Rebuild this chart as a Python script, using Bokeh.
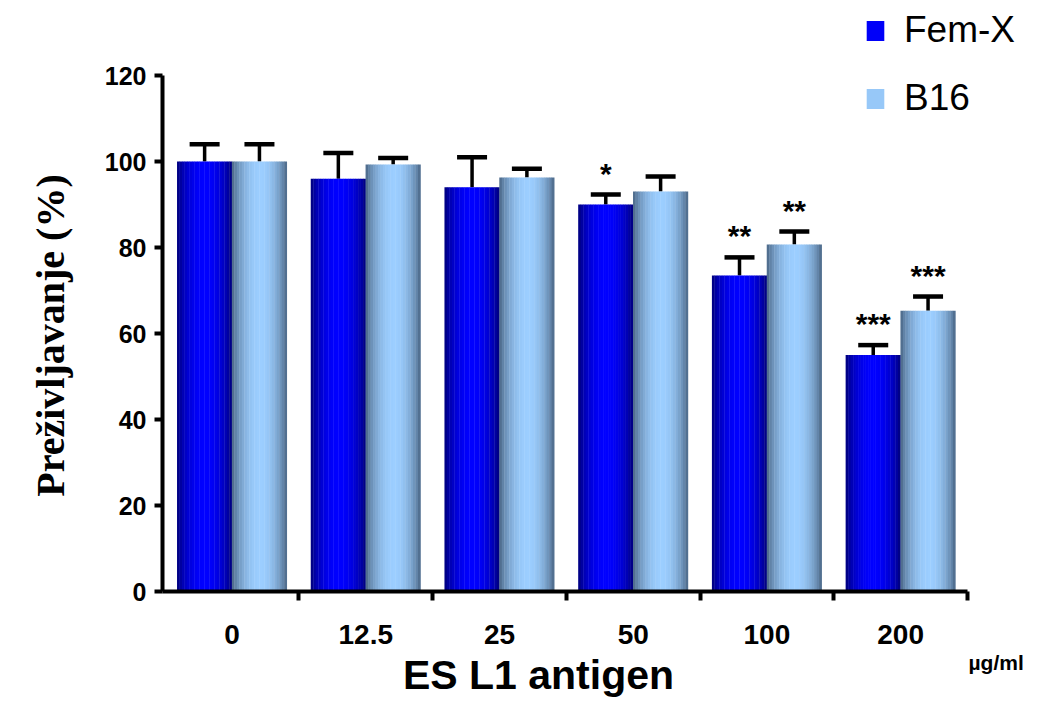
import numpy as np
from bokeh.plotting import figure
from bokeh.models import (ColumnDataSource, Range1d, FixedTicker, Whisker, TeeHead,
                          Label, Legend, LegendItem)
from bokeh.core.properties import value
from bokeh.embed import file_html
from bokeh.resources import INLINE

# ---- data ----
categories = ["0", "12.5", "25", "50", "100", "200"]
femx = [100, 96, 94, 90, 73.5, 55]
femx_err = [4, 6, 7, 2.3, 4.2, 2.3]
b16 = [100, 99.3, 96.3, 93, 80.7, 65.3]
b16_err = [4, 1.5, 2, 3.5, 3, 3.3]
femx_sig = ["", "", "", "*", "**", "***"]
b16_sig = ["", "", "", "", "**", "***"]
y_ticks = [0, 20, 40, 60, 80, 100, 120]
series_names = ["Fem-X", "B16"]
x_title = "ES L1 antigen"
y_title = "Preživljavanje (%)"
unit_text = "µg/ml"

n = len(categories)
xc = np.arange(n) + 0.5
bw = 0.41

# frame covers whole canvas; axes placed with fixed_location
W, H = 1042, 705
fx0, fx1, fy_top, fy_bot = 162, 967, 75, 591
x_lo, x_hi = -0.02, 6.0
y_lo, y_hi = 0, 120
kx = (fx1 - fx0) / (x_hi - x_lo)
ky = (fy_bot - fy_top) / (y_hi - y_lo)
xr = Range1d(x_lo - fx0 / kx, x_hi + (W - fx1) / kx)
yr = Range1d(y_lo - (H - fy_bot) / ky, y_hi + fy_top / ky)


def sx2d(px):
    return x_lo + (px - fx0) / kx


def sy2d(py):
    return y_lo + (fy_bot - py) / ky


p = figure(width=W, height=H, output_backend="svg", toolbar_location=None,
           x_range=xr, y_range=yr, min_border=0)
p.outline_line_color = None
p.xgrid.visible = False
p.ygrid.visible = False
p.background_fill_color = "white"
p.border_fill_color = "white"


def lerp(c1, c2, s):
    return "#%02x%02x%02x" % tuple(int(round(a + (b - a) * s)) for a, b in zip(c1, c2))


def shade(t, peak):
    u = t / peak if t <= peak else (1 - t) / (1 - peak)
    return np.sin(u * np.pi / 2) ** 0.7


N = 22
specs = [
    (series_names[0], femx, femx_err, femx_sig, -bw / 2, (0x00, 0x00, 0x70), (0x00, 0x00, 0xFF), 0.5),
    (series_names[1], b16, b16_err, b16_sig, bw / 2, (0x44, 0x5E, 0x7C), (0x9C, 0xCE, 0xFF), 0.52),
]

legend_items = []
for name, vals, errs, sig, off, edge, center, peak in specs:
    xs = xc + off
    src = ColumnDataSource(dict(x=xs, top=vals, lower=vals,
                                upper=np.array(vals) + np.array(errs),
                                sig=sig, sy=np.array(vals) + np.array(errs) + 5.0))
    rep = None
    for k in range(N):
        t = (k + 0.5) / N
        col = lerp(edge, center, shade(t, peak))
        sxk = xs - bw / 2 + (k + 0.5) * bw / N
        r = p.vbar(x=sxk, width=bw / N * 1.15, top=vals, bottom=0,
                   fill_color=col, line_color=None)
        if k == N // 2 - 3:
            rep = r
    legend_items.append(LegendItem(label=name, renderers=[rep]))
    w = Whisker(source=src, base="x", upper="upper", lower="lower",
                line_color="black", line_width=3.5,
                upper_head=TeeHead(size=30, line_width=4.5, line_color="black"),
                lower_head=None)
    p.add_layout(w)
    p.text(x="x", y="sy", text="sig", source=src, text_align="center",
           text_baseline="middle", text_font=value("Liberation Sans"),
           text_font_style="bold", text_font_size="30px", text_color="black")

# axes
ya = p.yaxis[0]
ya.fixed_location = x_lo
ya.bounds = (y_lo, y_hi)
ya.ticker = FixedTicker(ticks=y_ticks)
ya.axis_line_width = 4
ya.axis_line_color = "black"
ya.major_tick_line_width = 4
ya.major_tick_line_color = "black"
ya.major_tick_out = 8
ya.major_tick_in = 0
ya.minor_tick_line_color = None
ya.major_label_text_font = "Liberation Sans"
ya.major_label_text_font_style = "bold"
ya.major_label_text_font_size = "25px"
ya.major_label_text_color = "black"
ya.major_label_standoff = 8

xa = p.xaxis[0]
xa.fixed_location = y_lo
xa.bounds = (x_lo, x_hi)
xa.ticker = FixedTicker(ticks=list(xc), minor_ticks=list(np.arange(1, n + 1)))
xa.major_label_overrides = {float(x): c for x, c in zip(xc, categories)}
xa.axis_line_width = 4
xa.axis_line_color = "black"
xa.major_tick_line_color = None
xa.major_tick_out = 0
xa.major_tick_in = 0
xa.minor_tick_line_width = 4
xa.minor_tick_line_color = "black"
xa.minor_tick_out = 9
xa.minor_tick_in = 0
xa.major_label_text_font = "Liberation Sans"
xa.major_label_text_font_style = "bold"
xa.major_label_text_font_size = "28px"
xa.major_label_text_color = "black"
xa.major_label_standoff = 24

p.add_layout(Label(x=sx2d(50), y=sy2d(335), text=y_title, angle=np.pi / 2,
                   text_align="center", text_baseline="middle",
                   text_font="Liberation Serif", text_font_style="bold",
                   text_font_size="40px", text_color="black"))
p.add_layout(Label(x=sx2d(538), y=sy2d(674), text=x_title, text_align="center",
                   text_baseline="middle", text_font="Liberation Sans",
                   text_font_style="bold", text_font_size="41px", text_color="black"))
p.add_layout(Label(x=sx2d(968), y=sy2d(662), text=unit_text, text_align="left",
                   text_baseline="middle", text_font="Liberation Sans",
                   text_font_style="bold", text_font_size="21px", text_color="black"))

legend = Legend(items=legend_items, location=(864, 586), orientation="vertical",
                label_text_font="Liberation Sans", label_text_font_size="37px",
                label_text_color="black",
                glyph_width=22, glyph_height=25, spacing=26, padding=0, margin=0,
                label_standoff=18, border_line_color=None, background_fill_alpha=0)
p.add_layout(legend)

open("out.html", "w").write(file_html(p, INLINE))
